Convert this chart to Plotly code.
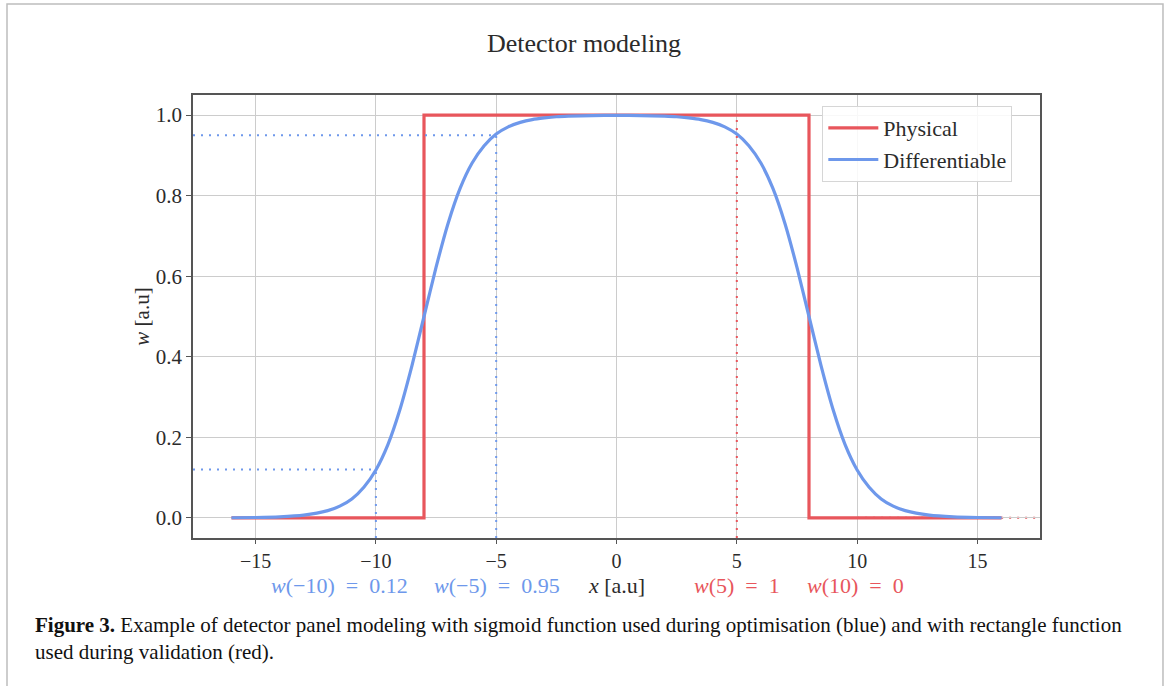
import plotly.graph_objects as go

# ---- data ----
blue_x = [-16, -15, -14, -13, -12, -11.5, -11, -10.5, -10, -9.5, -9, -8.5, -8, -7.5, -7, -6.5, -6,
          -5.5, -5, -4.5, -4, -3.5, -3, -2.5, -2, -1, 0, 1, 2, 2.5, 3, 3.5, 4, 4.5, 5, 5.5, 6,
          6.5, 7, 7.5, 8, 8.5, 9, 9.5, 10, 10.5, 11, 11.5, 12, 13, 14, 15, 16]
blue_y = [0.0003, 0.0009, 0.0025, 0.0067, 0.018, 0.029, 0.047, 0.076, 0.119, 0.182, 0.269, 0.378, 0.5,
          0.622, 0.731, 0.818, 0.881, 0.924, 0.953, 0.971, 0.982, 0.989, 0.993, 0.996, 0.9975, 0.999,
          0.9993, 0.999, 0.9975, 0.996, 0.993, 0.989, 0.982, 0.971, 0.953, 0.924, 0.881, 0.818,
          0.731, 0.622, 0.5, 0.378, 0.269, 0.182, 0.119, 0.076, 0.047, 0.029, 0.018, 0.0067,
          0.0025, 0.0009, 0.0003]
red_x = [-16, -8, -8, 8, 8, 16]
red_y = [0, 0, 1, 1, 0, 0]

blue_marks_x = [-10, -5]
blue_marks_y = [0.12, 0.95]
red_marks_x = [5, 10]
red_marks_y = [1, 0]

x_ticks = [-15, -10, -5, 0, 5, 10, 15]
y_ticks = [0.0, 0.2, 0.4, 0.6, 0.8, 1.0]
x_range = [-17.6, 17.6]
y_range = [-0.05, 1.05]

RED = "rgb(232,86,92)"
BLUE = "rgb(110,152,235)"
FONT = "Liberation Serif"
TXT = "#2b2b2b"

fig = go.Figure()
fig.add_trace(go.Scatter(x=red_x, y=red_y, mode="lines", name="Physical",
                         line=dict(color=RED, width=3.2)))
fig.add_trace(go.Scatter(x=blue_x, y=blue_y, mode="lines", name="Differentiable",
                         line=dict(color=BLUE, width=3.2, shape="spline", smoothing=0.6)))

shapes = []
dot = dict(width=2, dash="2px,6px")
# blue guides
for bx, by in zip(blue_marks_x, blue_marks_y):
    shapes.append(dict(type="line", xref="x", yref="y", x0=x_range[0], x1=bx, y0=by, y1=by,
                       line=dict(color=BLUE, **dot), layer="above"))
    shapes.append(dict(type="line", xref="x", yref="y", x0=bx, x1=bx, y0=y_range[0], y1=by,
                       line=dict(color=BLUE, **dot), layer="above"))
# red guides
rx, ry = red_marks_x[0], red_marks_y[0]
shapes.append(dict(type="line", xref="x", yref="y", x0=rx, x1=rx, y0=y_range[0], y1=ry,
                   line=dict(color=RED, **dot), layer="above"))
rx, ry = red_marks_x[1], red_marks_y[1]
shapes.append(dict(type="line", xref="x", yref="y", x0=rx, x1=x_range[1], y0=ry, y1=ry,
                   line=dict(color=RED, **dot), layer="below"))
# page frame
shapes.append(dict(type="rect", xref="paper", yref="paper", x0=-0.2196, x1=1.1452, y0=-0.6, y1=1.2054,
                   line=dict(color="#bdbdbd", width=1.5), layer="below"))

fig.update_layout(
    width=1168, height=686,
    margin=dict(l=193, r=128, t=95, b=148),
    paper_bgcolor="white", plot_bgcolor="white",
    font=dict(family=FONT, color=TXT, size=20),
    title=dict(text="Detector modeling", x=0.5, xanchor="center", y=0.938, yanchor="middle",
               font=dict(size=26, family=FONT, color=TXT)),
    shapes=shapes,
    showlegend=True,
    legend=dict(x=0.743, y=0.975, xanchor="left", yanchor="top",
                bgcolor="rgba(255,255,255,0.85)", bordercolor="#d6d6d6", borderwidth=1,
                font=dict(size=22, family=FONT, color=TXT), itemwidth=50,
                tracegroupgap=4),
)
fig.update_xaxes(range=x_range, tickvals=x_ticks,
                 ticktext=[("\u2212" + str(abs(v))) if v < 0 else str(v) for v in x_ticks],
                 showgrid=True, gridcolor="#cccccc", gridwidth=1, zeroline=False,
                 showline=True, linecolor="#555555", linewidth=1.5, mirror=True,
                 ticks="outside", ticklen=4, tickcolor="#555555",
                 tickfont=dict(size=20, family=FONT, color=TXT))
fig.update_yaxes(range=y_range, tickvals=y_ticks, ticktext=["%.1f" % v for v in y_ticks],
                 showgrid=True, gridcolor="#cccccc", gridwidth=1, zeroline=False,
                 showline=True, linecolor="#555555", linewidth=1.5, mirror=True,
                 ticks="outside", ticklen=5, tickcolor="#555555",
                 tickfont=dict(size=21, family=FONT, color=TXT),
                 title=dict(text="<i>w</i> [a.u]", font=dict(size=21, family=FONT, color=TXT),
                            standoff=0))

# x-axis composite label
EQ = "\u2002=\u2002"
labels = [("<i>w</i>(\u221210)" + EQ + "0.12", BLUE, 339),
          ("<i>w</i>(\u22125)" + EQ + "0.95", BLUE, 497),
          ("<i>x</i> [a.u]", TXT, 616),
          ("<i>w</i>(5)" + EQ + "1", RED, 737),
          ("<i>w</i>(10)" + EQ + "0", RED, 855)]
for txt, col, px in labels:
    fig.add_annotation(text=txt, xref="paper", yref="paper", x=(px - 193) / 847, y=(538 - 585) / 443,
                       xanchor="center", yanchor="middle", showarrow=False,
                       font=dict(size=22, family=FONT, color=col))

caption = ("<b>Figure 3.</b> Example of detector panel modeling with sigmoid function used during "
           "optimisation (blue) and with rectangle function<br>used during validation (red).")
fig.add_annotation(text=caption, xref="paper", yref="paper", x=(33 - 193) / 847, y=(538 - 611) / 443,
                   xanchor="left", yanchor="top", align="left", showarrow=False,
                   font=dict(size=21, family=FONT, color="#111111"))

fig.write_html("out.html")
